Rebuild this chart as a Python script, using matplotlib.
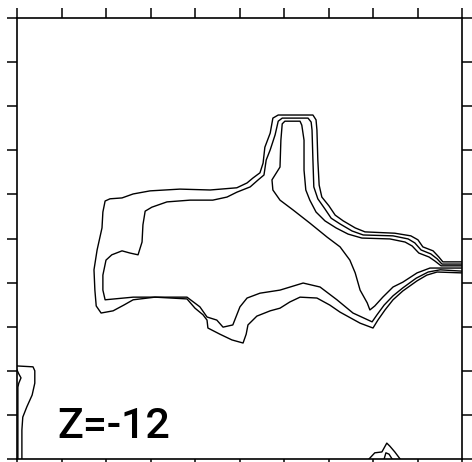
import matplotlib.pyplot as plt

outer_x = [100.0, 95.7, 94.8, 93.5, 91.2, 90.1, 88.5, 84.9, 78.2, 76.0, 73.3, 71.5, 70.1, 68.5, 67.9,
           67.6, 67.4, 67.2, 66.5, 58.7, 57.5, 56.9, 55.7, 55.3, 54.6, 53.0, 51.7, 49.4, 43.4, 36.6,
           29.9, 26.1, 23.6, 20.9, 19.8, 19.3, 19.1, 18.0, 17.3, 17.5, 17.8, 18.9, 21.6, 24.0, 26.1,
           31.0, 38.2, 40.0, 41.8, 42.7, 42.9, 45.6, 48.3, 50.8, 51.5, 51.9, 53.9, 56.9, 59.1, 61.3,
           63.6, 67.4, 70.3, 72.6, 77.1, 80.0, 81.1, 82.7, 84.5, 86.7, 89.9, 92.1, 94.4, 100.0]
outer_y = [44.7, 44.7, 45.8, 47.2, 48.1, 49.7, 50.6, 51.2, 51.5, 52.4, 54.0, 55.3, 57.4, 59.4, 62.1,
           67.8, 74.6, 76.9, 78.0, 78.0, 77.3, 73.9, 70.7, 67.1, 64.9, 63.7, 62.6, 61.5, 61.0, 61.2,
           60.8, 60.1, 59.2, 59.0, 58.5, 56.0, 52.4, 47.4, 42.9, 38.3, 34.7, 33.1, 33.6, 34.9, 36.1,
           36.7, 36.3, 34.2, 32.7, 31.5, 29.7, 28.3, 27.0, 26.3, 28.3, 30.4, 32.4, 33.6, 34.2, 35.6,
           36.7, 36.5, 34.9, 33.3, 30.8, 29.7, 31.5, 33.8, 36.1, 38.1, 40.4, 41.7, 42.4, 42.2]

middle_x = [100.0, 95.5, 94.4, 93.0, 90.8, 89.4, 87.9, 84.5, 77.8, 75.3, 72.6, 70.6, 69.2, 67.6, 66.7,
            66.5, 66.3, 66.1, 65.4, 59.6, 58.7, 58.0, 56.9, 56.0, 55.5, 54.2, 52.4, 49.4, 47.2, 44.0,
            38.9, 33.7, 30.3, 28.8, 28.3, 28.1, 27.2, 25.4, 23.6, 21.3, 20.0, 19.3, 19.3, 19.8, 26.1,
            38.2, 41.1, 42.7, 44.9, 46.3, 48.5, 50.1, 51.7, 54.6, 59.1, 64.3, 68.1, 71.9, 75.5, 79.8,
            80.9, 82.5, 84.5, 86.7, 89.7, 92.4, 95.1, 100.0]
middle_y = [44.2, 44.2, 45.4, 46.5, 47.4, 49.0, 49.9, 50.6, 50.8, 51.7, 53.3, 54.6, 56.7, 59.0, 61.7,
            67.8, 74.6, 76.4, 77.3, 77.3, 76.6, 73.5, 70.1, 67.8, 64.4, 63.3, 61.7, 60.5, 59.4, 58.7,
            58.7, 58.3, 57.1, 56.2, 53.1, 49.2, 46.3, 46.7, 47.2, 46.3, 45.1, 41.7, 38.3, 36.1, 36.7,
            36.7, 34.5, 32.2, 31.5, 29.9, 30.4, 34.5, 36.5, 37.6, 38.3, 39.9, 39.0, 36.1, 33.1, 31.1,
            32.7, 34.9, 37.0, 38.8, 41.0, 42.4, 42.9, 42.6]

inner_x = [100.0, 95.3, 93.9, 92.6, 90.3, 88.8, 87.2, 83.8, 77.5, 74.4, 71.7, 69.2, 67.2, 65.8, 64.9,
           64.5, 64.5, 64.0, 63.6, 60.2, 59.6, 59.3, 59.1, 57.3, 57.5, 59.1, 62.0, 65.8, 69.7, 72.6,
           74.8, 76.0, 77.1, 78.7, 79.3, 80.4, 82.2, 84.5, 86.7, 89.9, 92.8, 100.0]
inner_y = [43.8, 43.8, 44.9, 45.8, 46.7, 48.3, 49.2, 49.9, 50.1, 51.0, 52.4, 54.0, 56.0, 58.7, 61.0,
           65.5, 72.3, 75.7, 76.6, 76.6, 76.0, 72.3, 66.2, 63.3, 61.0, 58.7, 56.5, 53.5, 50.3, 48.1,
           45.1, 42.2, 38.3, 35.4, 33.8, 34.7, 36.7, 39.0, 40.1, 42.2, 43.3, 43.3]

# small features at the lower left and lower right edges
left_x = [0.0, 3.6, 4.0, 4.0, 3.4, 2.2, 1.3, 1.1, 1.1]
left_y = [21.1, 20.9, 20.0, 17.2, 14.5, 11.8, 9.5, 6.6, 0.0]
left_in_x = [0.0, 0.4, 0.9, 0.4, 0.2, 0.2]
left_in_y = [20.2, 19.3, 18.4, 17.2, 16.3, 0.0]

peak_x = [79.1, 80.4, 82.0, 83.1, 83.8, 84.9, 86.1]
peak_y = [0.0, 1.4, 1.6, 3.6, 2.9, 1.6, 0.0]
peak_in_x = [82.5, 82.9, 83.6, 84.3]
peak_in_y = [0.0, 1.4, 1.1, 0.0]

ticks = [0, 10, 20, 30, 40, 50, 60, 70, 80, 90, 100]
label = "Z=-12"

fig = plt.figure(figsize=(4.72, 4.62), dpi=100)
ax = fig.add_axes([17 / 472, 3 / 462, 445 / 472, 441 / 462])

lines = [(outer_x, outer_y), (middle_x, middle_y), (inner_x, inner_y),
         (left_x, left_y), (left_in_x, left_in_y), (peak_x, peak_y), (peak_in_x, peak_in_y)]
for xs, ys in lines:
    ax.plot(xs, ys, color='black', lw=1.0, solid_joinstyle='round')

ax.set_xlim(0, 100)
ax.set_ylim(0, 100)
ax.set_xticks(ticks)
ax.set_yticks(ticks)
ax.tick_params(direction='out', length=7, width=1.1, color='black',
               top=True, right=True, labelbottom=False, labelleft=False)
for s in ax.spines.values():
    s.set_linewidth(1.2)

ax.text(0.09, 0.048, label, transform=ax.transAxes, fontsize=31,
        family='Roboto', weight='medium', va='baseline', ha='left')

fig.savefig('out.png', dpi=100)
